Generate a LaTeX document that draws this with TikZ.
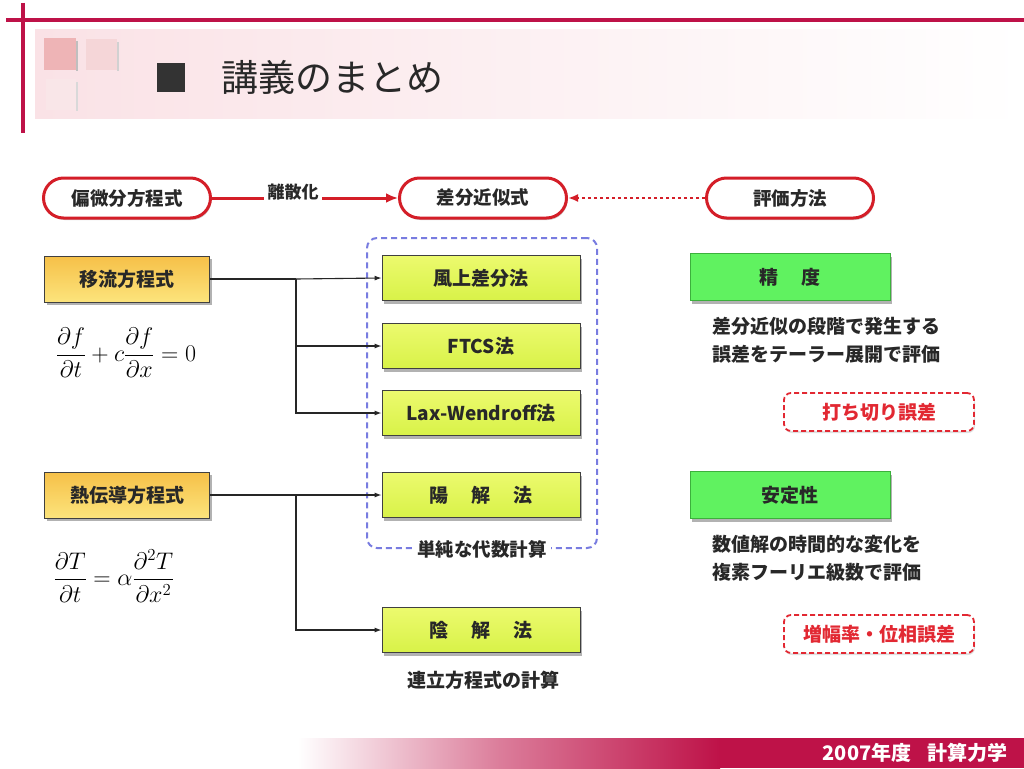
\RequirePackage{fix-cm}
\documentclass[tikz,border=0pt]{standalone}
\usepackage{fontspec}
\setmainfont{Noto Sans CJK JP}
\usetikzlibrary{shadows,arrows.meta,calc}
\definecolor{crimson}{RGB}{190,18,72}
\definecolor{ovalred}{RGB}{212,30,40}
\definecolor{boxred}{RGB}{226,40,50}
\definecolor{pinkband}{RGB}{250,226,230}
\definecolor{sqA}{RGB}{238,180,182}
\definecolor{sqB}{RGB}{245,214,216}
\definecolor{sqC}{RGB}{249,230,232}
\definecolor{orangeT}{RGB}{246,192,72}
\definecolor{orangeB}{RGB}{252,228,124}
\definecolor{limeT}{RGB}{236,250,110}
\definecolor{limeB}{RGB}{216,242,72}
\definecolor{greenF}{RGB}{96,242,96}
\definecolor{greenD}{RGB}{60,176,60}
\definecolor{blueD}{RGB}{120,124,224}
\definecolor{txt}{RGB}{40,40,40}
\tikzset{
  shad/.style={drop shadow={shadow xshift=2pt,shadow yshift=-3pt,opacity=0.3,fill=black}},
  oval/.style={draw=ovalred,line width=3pt,rounded corners=20pt,fill=white,
    minimum width=167pt,minimum height=40pt,text=txt,
    font=\bfseries\fontsize{18.5}{20}\selectfont,
    drop shadow={shadow xshift=1pt,shadow yshift=-2pt,opacity=0.2,fill=black}},
  eqbox/.style={shad,draw=black!75,line width=0.8pt,top color=orangeT,bottom color=orangeB,
    minimum width=165pt,minimum height=46pt,text=txt,font=\bfseries\fontsize{19}{21}\selectfont},
  method/.style={shad,draw=black!75,line width=0.8pt,top color=limeT,bottom color=limeB,
    minimum width=198pt,minimum height=45pt,text=txt,font=\bfseries\fontsize{19}{21}\selectfont},
  evalbox/.style={shad,draw=greenD,line width=1pt,fill=greenF,
    minimum width=200pt,minimum height=47pt,text=txt,font=\bfseries\fontsize{19}{21}\selectfont},
  errbox/.style={draw=boxred,line width=1.8pt,dash pattern=on 5pt off 3pt,rounded corners=7pt,fill=white,
    minimum width=190pt,minimum height=38pt,text=boxred,font=\bfseries\fontsize{19}{21}\selectfont,
    drop shadow={shadow xshift=1pt,shadow yshift=-2pt,opacity=0.12,fill=black}},
  plain/.style={text=txt,font=\bfseries\fontsize{19}{28}\selectfont,align=left},
  conn/.style={draw=black!85,line width=1.1pt},
  arr/.style={conn,-{Latex[length=7pt,width=5pt]}},
  eqn/.style={font=\fontsize{24}{28}\selectfont,text=black}
}
\begin{document}
\begin{tikzpicture}[x=1pt,y=-1pt]
\fill[white] (0,0) rectangle (1024,768);
\useasboundingbox (0,0) rectangle (1024,768);
% header
\shade[left color=pinkband,right color=white] (35,30) rectangle (1024,118);
\fill[sqA] (44,38) rectangle (76,70);
\fill[sqB] (86,39) rectangle (117,70);
\fill[sqC] (46,79) rectangle (76,110);
\fill[black!25] (76,41) rectangle (78,71);
\fill[black!18] (117,42) rectangle (119,71);
\fill[black!15] (76,82) rectangle (78,111);
\draw[crimson,line width=4pt] (6,20) -- (1024,20);
\draw[crimson,line width=4pt] (23,3) -- (23,133);
\fill[black!80] (157,63) rectangle (185,92);
\node[text=txt,font=\fontsize{37}{40}\selectfont,anchor=west] (title) at (218,77) {講義のまとめ};
% bottom bar
\shade[left color=white,right color=crimson!55] (298,738) rectangle (500,768);
\shade[left color=crimson!55,right color=crimson] (500,738) rectangle (720,768);
\fill[crimson] (720,738) rectangle (1024,768);
\node[text=white,font=\bfseries\fontsize{20}{22}\selectfont,anchor=east] (foot) at (1011,753) {2007年度\hspace{0.8em}計算力学};
% top row
\node[oval] (pde) at (127,198) {偏微分方程式};
\node[oval] (fd) at (483,198) {差分近似式};
\node[oval] (ev) at (790,198) {評価方法};
\node[text=txt,font=\bfseries\fontsize{17}{19}\selectfont] (disc) at (293,192) {離散化};
\draw[ovalred,line width=3pt] (pde.east) -- (disc.west |- pde.east);
\draw[ovalred,line width=3pt,-{Latex[length=12pt,width=10pt]}] (disc.east |- fd.west) -- (fd.west);
\draw[ovalred,line width=2.2pt,dash pattern=on 3pt off 3pt,-{Latex[length=10pt,width=8pt]}] (ev.west) -- (fd.east);
% group
\node[draw=blueD,line width=2pt,dash pattern=on 6pt off 4pt,rounded corners=10pt,minimum width=230pt,minimum height=310pt] (grp) at (482,393) {};
\node[fill=white,text=txt,font=\bfseries\fontsize{18.5}{20}\selectfont,inner sep=4pt] (grplbl) at (grp.south) {単純な代数計算};
% equations
\node[eqbox] (adv) at (127,279) {移流方程式};
\node[eqbox] (heat) at (127,495) {熱伝導方程式};
\node[eqn] (eqadv) at (126,353) {$\displaystyle \frac{\partial f}{\partial t}+c\frac{\partial f}{\partial x}=0$};
\node[eqn] (eqheat) at (114,576) {$\displaystyle \frac{\partial T}{\partial t}=\alpha\frac{\partial^2 T}{\partial x^2}$};
% methods
\node[method] (upw) at (481,278) {風上差分法};
\node[method] (ftcs) at (481,346) {FTCS法};
\node[method] (lax) at (481,413) {Lax-Wendroff法};
\node[method] (expl) at (481,495) {陽\hspace{1.2em}解\hspace{1.2em}法};
\node[method] (impl) at (481,630) {陰\hspace{1.2em}解\hspace{1.2em}法};
\node[plain] (impltxt) at (483,680) {連立方程式の計算};
% connectors
\coordinate (ja) at (296,279);
\coordinate (jb) at (296,495);
\draw[conn] (adv.east) -- (ja);
\draw[arr] (ja) -- (upw.west);
\draw[arr] (ja) |- (ftcs.west);
\draw[arr] (ja) |- (lax.west);
\draw[conn] (heat.east) -- (jb);
\draw[arr] (jb) -- (expl.west);
\draw[arr] (jb) |- (impl.west);
% evaluation
\node[evalbox] (acc) at (790,277) {精\hspace{1.2em}度};
\node[evalbox] (stab) at (790,495) {安定性};
\node[plain,anchor=north west] (acctxt) at (709,314) {差分近似の段階で発生する\\誤差をテーラー展開で評価};
\node[plain,anchor=north west] (stabtxt) at (709,532) {数値解の時間的な変化を\\複素フーリエ級数で評価};
\node[errbox] (trunc) at (879,412) {打ち切り誤差};
\node[errbox] (amp) at (879,634) {増幅率・位相誤差};
\end{tikzpicture}
\end{document}
